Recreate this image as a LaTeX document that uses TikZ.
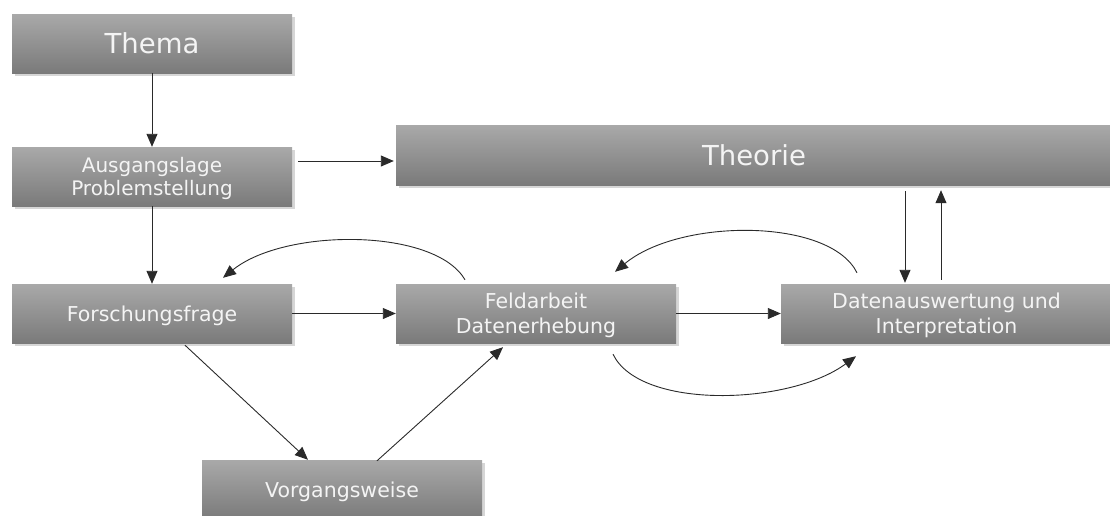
\documentclass[tikz,border=0pt]{standalone}
\usepackage{fontspec}
\setmainfont{DejaVu Sans}
\usetikzlibrary{arrows.meta,shadows}

\definecolor{boxtop}{HTML}{A9A9A9}
\definecolor{boxbot}{HTML}{7A7A7A}
\definecolor{boxshadow}{HTML}{D6D6D6}
\definecolor{boxtext}{HTML}{F4F4F4}
\definecolor{wire}{HTML}{2A2A2A}

\begin{document}
\begin{tikzpicture}[x=1pt,y=-1pt,
  stepbox/.style={rectangle, inner sep=0pt, draw=none,
    minimum width=280pt, minimum height=59pt,
    top color=boxtop, bottom color=boxbot,
    text=boxtext, align=center, text depth=0pt,
    font=\fontsize{20.5}{25}\selectfont,
    drop shadow={shadow xshift=3pt, shadow yshift=-3pt,
      fill=boxshadow, opacity=1}},
  bigbox/.style={stepbox, font=\fontsize{27.5}{32}\selectfont},
  flow/.style={draw=wire, line width=0.9pt,
    -{Triangle[length=13pt,width=11pt]}}]

\useasboundingbox (0,0) rectangle (1110,515);

% process boxes
\node[bigbox] (thema) at (152,43.5) {Thema};
\node[stepbox, font=\fontsize{20}{23}\selectfont] (ausg) at (152,176.5)
  {Ausgangslage\\Problemstellung};
\node[bigbox, minimum width=716pt, minimum height=60pt] (theorie) at (754,155) {Theorie};
\node[stepbox] (forsch) at (152,313.5) {Forschungsfrage};
\node[stepbox] (feld) at (536,313.5) {Feldarbeit\\Datenerhebung};
\node[stepbox, minimum width=331pt] (daten) at (946.5,313.5)
  {Datenauswertung und\\Interpretation};
\node[stepbox] (vorg) at (342,489.5) {Vorgangsweise};

% straight connectors
\draw[flow] (thema.south) -- (ausg.north);
\draw[flow] ([shift={(6,-15.5)}]ausg.east) -- ([shift={(-2,6)}]theorie.west);
\draw[flow] (ausg.south) -- (forsch.north);
\draw[flow] (forsch.east) -- (feld.west);
\draw[flow] (feld.east) -- (daten.west);
\draw[flow] ([shift={(151,6)}]theorie.south) -- ([shift={(-41.5,-1)}]daten.north);
\draw[flow] ([shift={(-5.5,-4)}]daten.north) -- ([shift={(187,5)}]theorie.south);
\draw[flow] ([shift={(33,2)}]forsch.south) -- ([shift={(-34,0)}]vorg.north);
\draw[flow] ([shift={(35,1)}]vorg.north) -- ([shift={(-33,4)}]feld.south);

% feedback arcs
\draw[flow] ([shift={(-71,-4)}]feld.north)
  .. controls ([shift={(-101,-56)}]feld.north) and ([shift={(133,-56)}]forsch.north)
  .. ([shift={(71,-6)}]forsch.north);
\draw[flow] ([shift={(-89.5,-11)}]daten.north)
  .. controls ([shift={(-116.5,-66)}]daten.north) and ([shift={(144,-66)}]feld.north)
  .. ([shift={(79,-12)}]feld.north);
\draw[flow] ([shift={(77,11)}]feld.south)
  .. controls ([shift={(104,67)}]feld.south) and ([shift={(-156.5,62)}]daten.south)
  .. ([shift={(-90.5,13)}]daten.south);

\end{tikzpicture}
\end{document}
